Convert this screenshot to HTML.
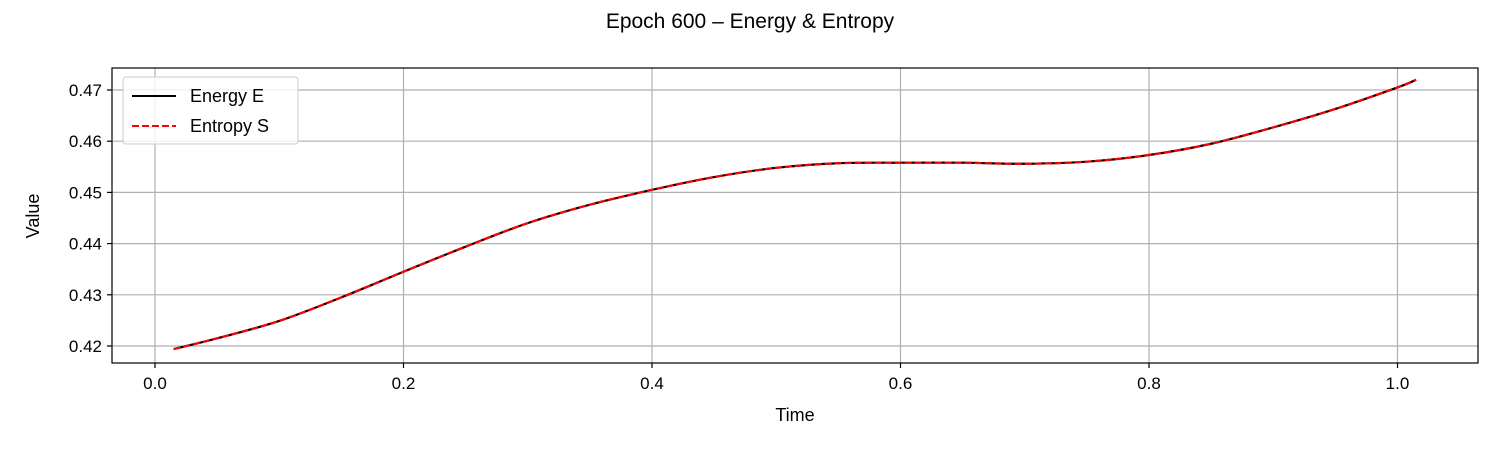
<!DOCTYPE html>
<html><head><meta charset="utf-8"><style>
body{margin:0;background:#fff;}
svg text{font-family:"Liberation Sans","DejaVu Sans",sans-serif;fill:#000;}
</style></head><body>
<svg id="chart" width="1500" height="450" xmlns="http://www.w3.org/2000/svg">
<rect width="1500" height="450" fill="#fff"/>
<text x="750" y="28" font-size="21" text-anchor="middle">Epoch 600 – Energy &amp; Entropy</text>
<g id="grid"></g>
<g id="ticks"></g>
<g id="series"></g>
<rect x="112" y="68" width="1366" height="295" fill="none" stroke="#000" stroke-width="1.2"/>
<text x="795" y="421" font-size="18" text-anchor="middle">Time</text>
<text transform="translate(39,216) rotate(-90)" font-size="18" text-anchor="middle">Value</text>
<g>
<rect x="123" y="77" width="175" height="67" rx="3" fill="#fff" fill-opacity="0.8" stroke="#ccc"/>
<line x1="132" y1="96" x2="176" y2="96" stroke="#000" stroke-width="2"/>
<text x="190" y="102" font-size="18">Energy E</text>
<line x1="132" y1="126" x2="176" y2="126" stroke="red" stroke-width="2" stroke-dasharray="7,3"/>
<text x="190" y="132" font-size="18">Entropy S</text>
</g>
</svg>
<script>
const times=[0.015,0.05,0.1,0.15,0.2,0.25,0.3,0.35,0.4,0.45,0.5,0.55,0.6,0.65,0.7,0.75,0.8,0.85,0.9,0.95,1.0,1.015];
const energy=[0.4194,0.4215,0.4249,0.4295,0.4345,0.4394,0.4440,0.4476,0.4505,0.4530,0.4548,0.4557,0.4558,0.4558,0.4556,0.4560,0.4573,0.4595,0.4627,0.4663,0.4705,0.4720];
const entropy=[0.4194,0.4215,0.4249,0.4295,0.4345,0.4394,0.4440,0.4476,0.4505,0.4530,0.4548,0.4557,0.4558,0.4558,0.4556,0.4560,0.4573,0.4595,0.4627,0.4663,0.4705,0.4720];
const xTicks=[0,0.2,0.4,0.6,0.8,1.0];
const xTickLabels=["0.0","0.2","0.4","0.6","0.8","1.0"];
const yTicks=[0.42,0.43,0.44,0.45,0.46,0.47];
const yTickLabels=["0.42","0.43","0.44","0.45","0.46","0.47"];
const X=v=>155+v*1242.5;
const Y=v=>346-(v-0.42)*5120;
const NS="http://www.w3.org/2000/svg";
const grid=document.getElementById('grid'),ticks=document.getElementById('ticks'),series=document.getElementById('series');
function mk(t,a,p){const e=document.createElementNS(NS,t);for(const k in a)e.setAttribute(k,a[k]);p.appendChild(e);return e;}
xTicks.forEach((v,i)=>{
 const g=mk('line',{x1:X(v),x2:X(v),y1:68,y2:363,stroke:'#b0b0b0','stroke-width':1.2},grid);
 
 
 mk('line',{x1:X(v),x2:X(v),y1:363,y2:368,stroke:'#000','stroke-width':1.2},ticks);
 const t=mk('text',{x:X(v),y:389,'font-size':17,'text-anchor':'middle'},ticks);t.textContent=xTickLabels[i];
 
 
});
yTicks.forEach((v,i)=>{
 const g=mk('line',{x1:112,x2:1478,y1:Y(v),y2:Y(v),stroke:'#b0b0b0','stroke-width':1.2},grid);
 
 
 mk('line',{x1:107,x2:112,y1:Y(v),y2:Y(v),stroke:'#000','stroke-width':1.2},ticks);
 const t=mk('text',{x:102,y:Y(v)+6,'font-size':17,'text-anchor':'end'},ticks);t.textContent=yTickLabels[i];
 
 
});
function path(xs,ys){
 const p=xs.map((x,i)=>[X(x),Y(ys[i])]);let d='M'+p[0][0]+','+p[0][1];
 for(let i=0;i<p.length-1;i++){const p0=p[Math.max(0,i-1)],p1=p[i],p2=p[i+1],p3=p[Math.min(p.length-1,i+2)];
  d+=' C'+(p1[0]+(p2[0]-p0[0])/6)+','+(p1[1]+(p2[1]-p0[1])/6)+' '+(p2[0]-(p3[0]-p1[0])/6)+','+(p2[1]-(p3[1]-p1[1])/6)+' '+p2[0]+','+p2[1];}
 return d;}
const e=mk('path',{d:path(times,energy),fill:'none',stroke:'#000','stroke-width':2.2},series);


const s=mk('path',{d:path(times,entropy),fill:'none',stroke:'red','stroke-width':2.2,'stroke-dasharray':'7,3'},series);


</script>
</body></html>
